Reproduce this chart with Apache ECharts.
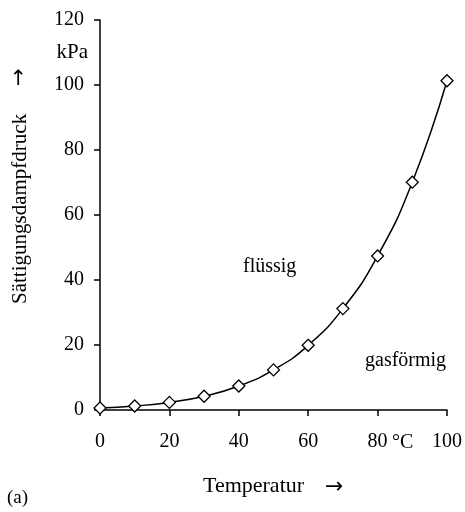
<!DOCTYPE html>
<html><head><meta charset="utf-8">
<script src="https://cdn.jsdelivr.net/npm/echarts@6/dist/echarts.min.js"></script>
<style>html,body{margin:0;padding:0;background:#fff}#c{width:465px;height:512px}</style>
</head><body><div id="c"></div>
<script>
const temperatures = [0, 10, 20, 30, 40, 50, 60, 70, 80, 90, 100];
const pressures = [0.61, 1.23, 2.34, 4.24, 7.38, 12.34, 19.9, 31.2, 47.4, 70.1, 101.3];
const xTicks = [0, 20, 40, 60, 80, 100];
const yTicks = [0, 20, 40, 60, 80, 100, 120];
const F = '"Liberation Serif","DejaVu Serif",serif';
const A = '"DejaVu Sans",sans-serif';
const chart = echarts.init(document.getElementById('c'));
const T = (o) => Object.assign({type: 'text'}, o);
chart.setOption({
  animation: false,
  grid: {left: 100, right: 18, top: 20, bottom: 102},
  xAxis: {type: 'value', min: 0, max: 100, interval: 20,
    axisLine: {lineStyle: {color: '#000', width: 1.5}},
    axisTick: {inside: false, length: 6, lineStyle: {color: '#000', width: 1.5}},
    axisLabel: {color: '#000', fontFamily: F, fontSize: 20, margin: 22},
    splitLine: {show: false}},
  yAxis: {type: 'value', min: 0, max: 120, interval: 20,
    axisLine: {show: true, lineStyle: {color: '#000', width: 1.5}},
    axisTick: {show: true, length: 6, lineStyle: {color: '#000', width: 1.5}},
    axisLabel: {color: '#000', fontFamily: F, fontSize: 20, margin: 16},
    splitLine: {show: false}},
  series: [{type: 'line', smooth: true, data: temperatures.map((t, i) => [t, pressures[i]]),
    symbol: 'diamond', symbolSize: 12, showSymbol: true,
    lineStyle: {color: '#000', width: 1.5},
    itemStyle: {color: '#fff', borderColor: '#000', borderWidth: 1.3}, z: 3}],
  graphic: [
    T({x: 392, y: 443, style: {text: '°C', font: '20px ' + F, fill: '#000', textVerticalAlign: 'middle'}}),
    T({x: 88, y: 52, style: {text: 'kPa', font: '21px ' + F, fill: '#000', textAlign: 'right', textVerticalAlign: 'middle'}}),
    T({x: 203, y: 486, style: {text: 'Temperatur', font: '22px ' + F, fill: '#000', textVerticalAlign: 'middle'}}),
    T({x: 325, y: 487, style: {text: '→', font: '22px ' + A, fill: '#000', textVerticalAlign: 'middle'}}),
    T({x: 7, y: 498, style: {text: '(a)', font: '19px ' + F, fill: '#000', textVerticalAlign: 'middle'}}),
    T({x: 243, y: 267, style: {text: 'flüssig', font: '20px ' + F, fill: '#000', textVerticalAlign: 'middle'}}),
    T({x: 365, y: 361, style: {text: 'gasförmig', font: '20px ' + F, fill: '#000', textVerticalAlign: 'middle'}}),
    T({x: 20, y: 304, rotation: Math.PI / 2, style: {text: 'Sättigungsdampfdruck', font: '21px ' + F, fill: '#000', textVerticalAlign: 'middle'}}),
    T({x: 20, y: 86, rotation: Math.PI / 2, style: {text: '→', font: '21px ' + A, fill: '#000', textVerticalAlign: 'middle'}})
  ]
});
</script></body></html>
